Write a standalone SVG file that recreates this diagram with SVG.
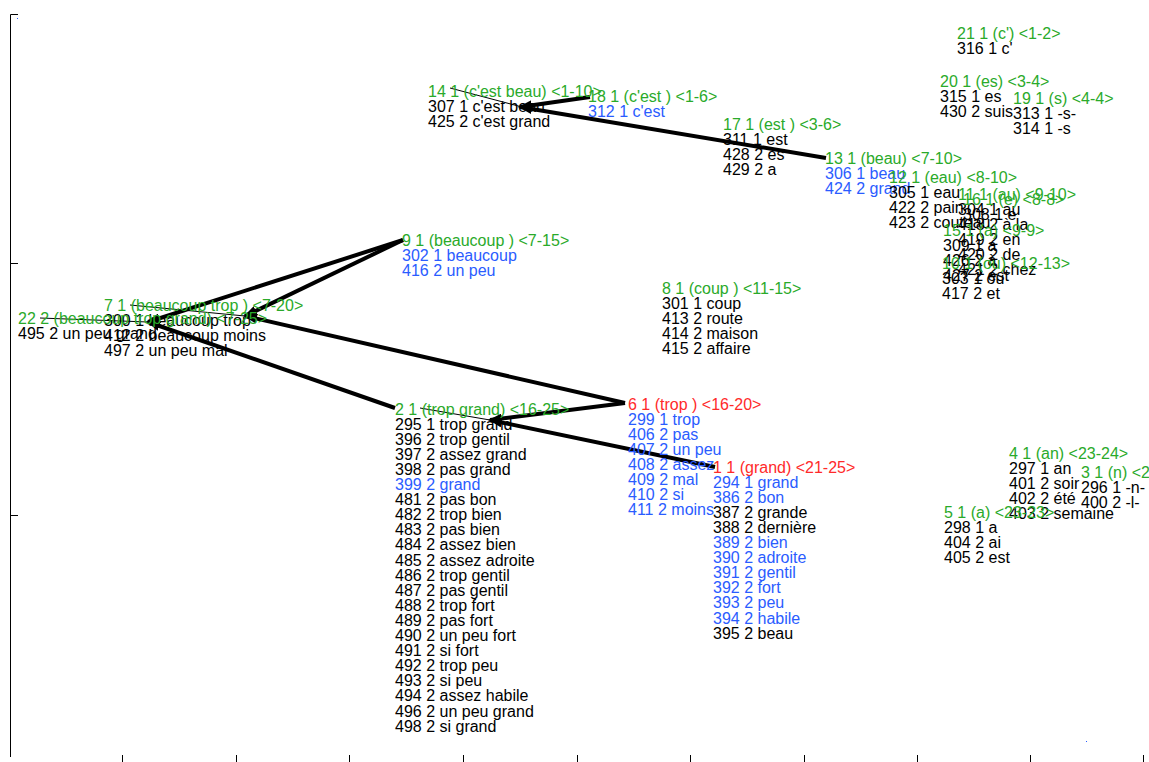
<svg xmlns="http://www.w3.org/2000/svg" width="1149" height="762" viewBox="0 0 1149 762">
<style>
text{font-family:"Liberation Sans",Arial,sans-serif;font-size:16px}
.g{fill:#2aaa2a}.b{fill:#2a5cff}.r{fill:#ff2a2a}.k{fill:#000}
.thick{stroke:#000;stroke-width:4;fill:none}
.thin{stroke:#000;stroke-width:1;fill:none}
.ax{stroke:#000;stroke-width:1;fill:none}
</style>
<defs>
<marker id="ah" markerWidth="14" markerHeight="10" refX="12" refY="5" orient="auto" markerUnits="userSpaceOnUse"><path d="M0,0 L14,5 L0,10 Z" fill="#000"/></marker>
</defs>
<rect width="1149" height="762" fill="#fff"/>
<g id="axes">
<path class="ax" d="M10.5,757 V14.5 H18 M10,263.5 H18 M10,515.5 H18"/>
<path class="ax" d="M122.5,755 V762 M236.5,755 V762 M349.5,755 V762 M463.5,755 V762 M577.5,755 V762 M690.5,755 V762 M804.5,755 V762 M917.5,755 V762 M1030.5,755 V762 M1143.5,755 V762"/>
<rect x="17" y="18" width="1" height="1" fill="#2a5cff"/>
<rect x="1086" y="741" width="1" height="1" fill="#2a5cff"/>
</g>
<g id="connectors">
<path class="thin" d="M40,318 L148,322"/>
<path class="thin" d="M130,305 L245,316"/>
<path class="thin" d="M420,408 L490,420"/>
<path class="thin" d="M450,88 L522,107"/>
<path class="thick" d="M403,240 L148,322" marker-end="url(#ah)"/>
<path class="thick" d="M395,408 L148,322" marker-end="url(#ah)"/>
<path class="thick" d="M403,240 L245,316" marker-end="url(#ah)"/>
<path class="thick" d="M625,403 L245,316" marker-end="url(#ah)"/>
<path class="thick" d="M625,403 L490,420" marker-end="url(#ah)"/>
<path class="thick" d="M715,467 L490,420" marker-end="url(#ah)"/>
<path class="thick" d="M590,97 L520,107" marker-end="url(#ah)"/>
<path class="thick" d="M826,158 L520,107" marker-end="url(#ah)"/>
</g>
<g id="n21" transform="translate(957,38.5)"><text class="g">21 1 (c') &lt;1-2&gt;</text><text class="k" y="15.1">316 1 c'</text></g>
<g id="n20" transform="translate(940,86.5)"><text class="g">20 1 (es) &lt;3-4&gt;</text><text class="k" y="15.1">315 1 es</text><text class="k" y="30.2">430 2 suis</text></g>
<g id="n19" transform="translate(1013,103.5)"><text class="g">19 1 (s) &lt;4-4&gt;</text><text class="k" y="15.1">313 1 -s-</text><text class="k" y="30.2">314 1 -s</text></g>
<g id="n14" transform="translate(428,96.5)"><text class="g">14 1 (c'est beau) &lt;1-10&gt;</text><text class="k" y="15.1">307 1 c'est beau</text><text class="k" y="30.2">425 2 c'est grand</text></g>
<g id="n18" transform="translate(588,101.5)"><text class="g">18 1 (c'est ) &lt;1-6&gt;</text><text class="b" y="15.1">312 1 c'est</text></g>
<g id="n17" transform="translate(723,129.5)"><text class="g">17 1 (est ) &lt;3-6&gt;</text><text class="k" y="15.1">311 1 est</text><text class="k" y="30.2">428 2 es</text><text class="k" y="45.3">429 2 a</text></g>
<g id="n13" transform="translate(825,163.5)"><text class="g">13 1 (beau) &lt;7-10&gt;</text><text class="b" y="15.1">306 1 beau</text><text class="b" y="30.2">424 2 grand</text></g>
<g id="n12" transform="translate(889,182.5)"><text class="g">12 1 (eau) &lt;8-10&gt;</text><text class="k" y="15.1">305 1 eau</text><text class="k" y="30.2">422 2 pain</text><text class="k" y="45.3">423 2 couteau</text></g>
<g id="n11" transform="translate(958,199.5)"><text class="g">11 1 (au) &lt;9-10&gt;</text><text class="k" y="15.1">304 1 au</text><text class="k" y="30.2">418 2 à la</text><text class="k" y="45.3">419 2 en</text><text class="k" y="60.4">420 2 de</text><text class="k" y="75.5">421 2 chez</text></g>
<g id="n16" transform="translate(963,205)"><text class="g">16 1 (e) &lt;8-8&gt;</text><text class="k" y="15.1">308 1 e</text></g>
<g id="n15" transform="translate(943,235.5)"><text class="g">15 1 (a) &lt;9-9&gt;</text><text class="k" y="15.1">309 1 a</text><text class="k" y="30.2">426 2 à</text><text class="k" y="45.3">427 2 est</text></g>
<g id="n10" transform="translate(942,268.5)"><text class="g">10 1 (ou) &lt;12-13&gt;</text><text class="k" y="15.1">303 1 ou</text><text class="k" y="30.2">417 2 et</text></g>
<g id="n9" transform="translate(402,245.5)"><text class="g">9 1 (beaucoup ) &lt;7-15&gt;</text><text class="b" y="15.1">302 1 beaucoup</text><text class="b" y="30.2">416 2 un peu</text></g>
<g id="n8" transform="translate(662,293.5)"><text class="g">8 1 (coup ) &lt;11-15&gt;</text><text class="k" y="15.1">301 1 coup</text><text class="k" y="30.2">413 2 route</text><text class="k" y="45.3">414 2 maison</text><text class="k" y="60.4">415 2 affaire</text></g>
<g id="n7" transform="translate(104,310.5)"><text class="g">7 1 (beaucoup trop ) &lt;7-20&gt;</text><text class="k" y="15.1">300 1 beaucoup trop</text><text class="k" y="30.2">412 2 beaucoup moins</text><text class="k" y="45.3">497 2 un peu mal</text></g>
<g id="n22" transform="translate(18,323.5)"><text class="g">22 2 (beaucoup trop grand) &lt;7-25&gt;</text><text class="k" y="15.1">495 2 un peu grand</text></g>
<g id="n6" transform="translate(628,409.5)"><text class="r">6 1 (trop ) &lt;16-20&gt;</text><text class="b" y="15.1">299 1 trop</text><text class="b" y="30.2">406 2 pas</text><text class="b" y="45.3">407 2 un peu</text><text class="b" y="60.4">408 2 assez</text><text class="b" y="75.5">409 2 mal</text><text class="b" y="90.6">410 2 si</text><text class="b" y="105.7">411 2 moins</text></g>
<g id="n1" transform="translate(713,472.5)"><text class="r">1 1 (grand) &lt;21-25&gt;</text><text class="b" y="15.1">294 1 grand</text><text class="b" y="30.2">386 2 bon</text><text class="k" y="45.3">387 2 grande</text><text class="k" y="60.4">388 2 dernière</text><text class="b" y="75.5">389 2 bien</text><text class="b" y="90.6">390 2 adroite</text><text class="b" y="105.7">391 2 gentil</text><text class="b" y="120.8">392 2 fort</text><text class="b" y="135.9">393 2 peu</text><text class="b" y="151">394 2 habile</text><text class="k" y="166.1">395 2 beau</text></g>
<g id="n2" transform="translate(395,414.5)"><text class="g">2 1 (trop grand) &lt;16-25&gt;</text><text class="k" y="15.1">295 1 trop grand</text><text class="k" y="30.2">396 2 trop gentil</text><text class="k" y="45.3">397 2 assez grand</text><text class="k" y="60.4">398 2 pas grand</text><text class="b" y="75.5">399 2 grand</text><text class="k" y="90.6">481 2 pas bon</text><text class="k" y="105.7">482 2 trop bien</text><text class="k" y="120.8">483 2 pas bien</text><text class="k" y="135.9">484 2 assez bien</text><text class="k" y="151">485 2 assez adroite</text><text class="k" y="166.1">486 2 trop gentil</text><text class="k" y="181.2">487 2 pas gentil</text><text class="k" y="196.3">488 2 trop fort</text><text class="k" y="211.4">489 2 pas fort</text><text class="k" y="226.5">490 2 un peu fort</text><text class="k" y="241.6">491 2 si fort</text><text class="k" y="256.7">492 2 trop peu</text><text class="k" y="271.8">493 2 si peu</text><text class="k" y="286.9">494 2 assez habile</text><text class="k" y="302">496 2 un peu grand</text><text class="k" y="317.1">498 2 si grand</text></g>
<g id="n4" transform="translate(1009,458.5)"><text class="g">4 1 (an) &lt;23-24&gt;</text><text class="k" y="15.1">297 1 an</text><text class="k" y="30.2">401 2 soir</text><text class="k" y="45.3">402 2 été</text><text class="k" y="60.4">403 2 semaine</text></g>
<g id="n3" transform="translate(1081,477.5)"><text class="g">3 1 (n) &lt;24-24&gt;</text><text class="k" y="15.1">296 1 -n-</text><text class="k" y="30.2">400 2 -l-</text></g>
<g id="n5" transform="translate(944,517.5)"><text class="g">5 1 (a) &lt;23-23&gt;</text><text class="k" y="15.1">298 1 a</text><text class="k" y="30.2">404 2 ai</text><text class="k" y="45.3">405 2 est</text></g>
</svg>
